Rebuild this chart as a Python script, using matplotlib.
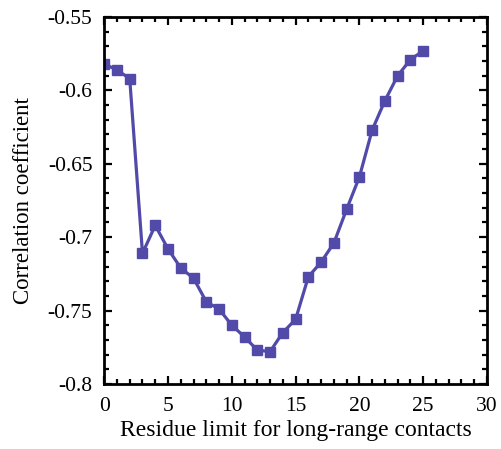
import numpy as np
import matplotlib
matplotlib.use('Agg')
import matplotlib.pyplot as plt
from matplotlib.ticker import MultipleLocator, FuncFormatter

residue_limit = list(range(0, 26))
corr = [-0.582, -0.586, -0.592, -0.711, -0.692, -0.708, -0.721, -0.728, -0.744, -0.749,
        -0.760, -0.768, -0.777, -0.778, -0.765, -0.756, -0.727, -0.717, -0.704, -0.681,
        -0.659, -0.627, -0.607, -0.590, -0.579, -0.573]

plt.rcParams['font.family'] = ['Liberation Serif', 'DejaVu Serif']
line_col = (0.32, 0.29, 0.66)

fig = plt.figure(figsize=(5.01, 4.49), dpi=100)
ax = fig.add_axes([0.208, 0.145, 0.764, 0.817])

ax.plot(residue_limit, corr, color=line_col, linewidth=2.3, marker='s',
        markersize=7, markerfacecolor=line_col, markeredgecolor=line_col)

ax.set_xlim(0, 30)
ax.set_ylim(-0.8, -0.55)
ax.xaxis.set_major_locator(MultipleLocator(5))
ax.xaxis.set_minor_locator(MultipleLocator(1))
ax.yaxis.set_major_locator(MultipleLocator(0.05))
ax.yaxis.set_minor_locator(MultipleLocator(0.01))
ax.yaxis.set_major_formatter(FuncFormatter(lambda v, p: ('%g' % round(v, 2)).replace('\u2212', '-')))

ax.tick_params(which='both', direction='in', top=True, right=True, width=1.6, labelsize=15.5, colors='black')
ax.tick_params(which='major', length=6)
ax.tick_params(which='minor', length=3.5)
ax.tick_params(axis='y', which='major', pad=8.5)
ax.tick_params(axis='x', which='major', pad=9.5)
for s in ax.spines.values():
    s.set_linewidth(2.0)

ax.set_xlabel('Residue limit for long-range contacts', fontsize=17, labelpad=3)
ax.set_ylabel('Correlation coefficient', fontsize=16.5, labelpad=10)

fig.savefig('out.png', dpi=100)
